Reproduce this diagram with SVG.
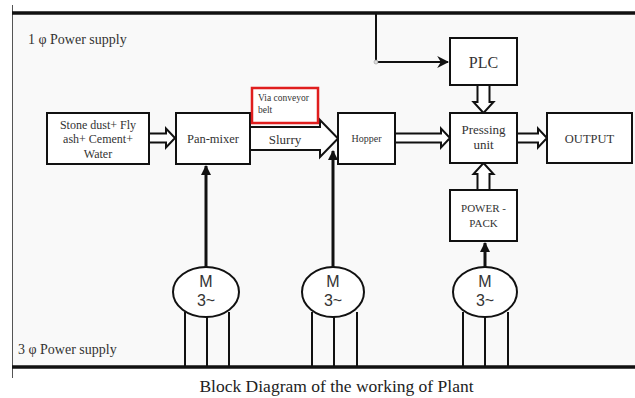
<svg xmlns="http://www.w3.org/2000/svg" width="635" height="398" viewBox="0 0 635 398">
<style>
.box{fill:#fff;stroke:#111;stroke-width:2}
.hol{fill:#fff;stroke:#111;stroke-width:2;stroke-linejoin:miter}
.t{font-family:"Liberation Serif","Times New Roman",serif;fill:#333;text-anchor:middle}
.m{font-family:"Liberation Sans",Arial,sans-serif;fill:#333;text-anchor:middle;font-size:16px}
.ln{stroke:#111;stroke-width:3;fill:none}
.leg{stroke:#111;stroke-width:2;fill:none}
.ell{fill:#fff;stroke:#111;stroke-width:2}
.ps{font-family:"Liberation Serif","Times New Roman",serif;font-size:14px;fill:#333}
</style>
<defs>
<marker id="ah" viewBox="0 0 10 10" refX="9" refY="5" markerWidth="3.5" markerHeight="3.5" orient="auto" markerUnits="strokeWidth">
<path d="M0,0 L10,5 L0,10 Z" fill="#111"/>
</marker>
<marker id="ah2" viewBox="0 0 10 10" refX="9" refY="5" markerWidth="6" markerHeight="6" orient="auto" markerUnits="strokeWidth">
<path d="M0,0 L10,5 L0,10 L3,5 Z" fill="#111"/>
</marker>
</defs>
<rect x="0" y="0" width="635" height="398" fill="#fff"/>
<rect x="12" y="13" width="623" height="354" fill="#f9f9f9"/>
<!-- frame -->
<line x1="12.5" y1="5" x2="12.5" y2="378" stroke="#555" stroke-width="1"/>
<line x1="12" y1="13" x2="635" y2="13" stroke="#111" stroke-width="3.5"/>
<line x1="12" y1="367" x2="635" y2="367" stroke="#111" stroke-width="3.5"/>
<text class="ps" x="28" y="44">1 φ Power supply</text>
<text class="ps" x="18" y="354">3 φ Power supply</text>

<g id="connectors">
<!-- power supply to PLC -->
<polyline points="376,13 376,62 448,62" fill="none" stroke="#111" stroke-width="2" marker-end="url(#ah2)"/>
<circle cx="376" cy="62" r="2" fill="#ddd" stroke="#999" stroke-width="0.6"/>
<circle cx="451" cy="62" r="1.8" fill="#d33"/>
<!-- hollow arrows -->
<polygon class="hol" points="149,133.5 166,133.5 166,128.5 175,138 166,147.5 166,142.5 149,142.5"/>
<polygon class="hol" points="250,127 320,127 320,120 338,138.5 320,157 320,150 250,150"/>
<polygon class="hol" points="395,133.5 441,133.5 441,128.5 450,138 441,147.5 441,142.5 395,142.5"/>
<polygon class="hol" points="517,133.5 538,133.5 538,128.5 547,138 538,147.5 538,142.5 517,142.5"/>
<polygon class="hol" points="477.5,85 489.5,85 489.5,102 493.5,102 483.5,113 473.5,102 477.5,102"/>
<polygon class="hol" points="477.5,190 489.5,190 489.5,174 493.5,174 483.5,163 473.5,174 477.5,174"/>
<!-- motor shafts -->
<line class="ln" x1="206" y1="267" x2="206" y2="166" marker-end="url(#ah)"/>
<line class="ln" x1="333" y1="267" x2="333" y2="151" marker-end="url(#ah)"/>
<line class="ln" x1="485" y1="267" x2="485" y2="243" marker-end="url(#ah)"/>
<!-- motor legs -->
<line class="leg" x1="185" y1="312" x2="185" y2="367"/>
<line class="leg" x1="207" y1="317" x2="207" y2="367"/>
<line class="leg" x1="229" y1="312" x2="229" y2="367"/>
<line class="leg" x1="312" y1="312" x2="312" y2="367"/>
<line class="leg" x1="334" y1="317" x2="334" y2="367"/>
<line class="leg" x1="357" y1="312" x2="357" y2="367"/>
<line class="leg" x1="463" y1="312" x2="463" y2="367"/>
<line class="leg" x1="485" y1="317" x2="485" y2="367"/>
<line class="leg" x1="508" y1="312" x2="508" y2="367"/>
</g>
<text class="t" x="285" y="144" font-size="13">Slurry</text>

<g id="stone">
<rect class="box" x="47" y="113" width="102" height="51"/>
<text class="t" x="98" y="129" font-size="12">Stone dust+ Fly</text>
<text class="t" x="98" y="143" font-size="12">ash+ Cement+</text>
<text class="t" x="98" y="158" font-size="12">Water</text>
</g>
<g id="panmixer">
<rect class="box" x="176" y="113" width="74" height="51"/>
<text class="t" x="213" y="143" font-size="12.5">Pan-mixer</text>
</g>
<g id="conveyor">
<rect x="252" y="88" width="66" height="35" fill="#fff" stroke="#e01e1e" stroke-width="2.5"/>
<text x="258" y="101" style="font-family:'Liberation Serif',serif;font-size:9.5px;fill:#333">Via conveyor</text>
<text x="258" y="113" style="font-family:'Liberation Serif',serif;font-size:9.5px;fill:#333">belt</text>
</g>
<g id="hopper">
<rect class="box" x="338" y="113" width="57" height="51"/>
<text class="t" x="366.5" y="142" font-size="10">Hopper</text>
</g>
<g id="pressing">
<rect class="box" x="450" y="113" width="67" height="50"/>
<text class="t" x="483.5" y="134" font-size="13">Pressing</text>
<text class="t" x="483.5" y="149" font-size="13">unit</text>
</g>
<g id="output">
<rect class="box" x="547" y="113" width="85" height="50"/>
<text class="t" x="589.5" y="143" font-size="12.5">OUTPUT</text>
</g>
<g id="plc">
<rect class="box" x="450" y="38" width="67" height="47"/>
<text class="t" x="483.5" y="68" font-size="16">PLC</text>
</g>
<g id="powerpack">
<rect class="box" x="450" y="190" width="67" height="51"/>
<text class="t" x="483.5" y="212" font-size="11">POWER -</text>
<text class="t" x="483.5" y="227" font-size="11">PACK</text>
</g>
<g id="motor1">
<ellipse class="ell" cx="206" cy="292" rx="33" ry="25"/>
<text class="m" x="206" y="287">M</text>
<text class="m" x="206" y="306">3~</text>
</g>
<g id="motor2">
<ellipse class="ell" cx="333" cy="292" rx="31" ry="25"/>
<text class="m" x="333" y="287">M</text>
<text class="m" x="333" y="306">3~</text>
</g>
<g id="motor3">
<ellipse class="ell" cx="485" cy="292" rx="32" ry="25"/>
<text class="m" x="485" y="287">M</text>
<text class="m" x="485" y="306">3~</text>
</g>
<text class="t" x="336.5" y="392" font-size="17.5" style="fill:#222">Block Diagram of the working of Plant</text>
</svg>
